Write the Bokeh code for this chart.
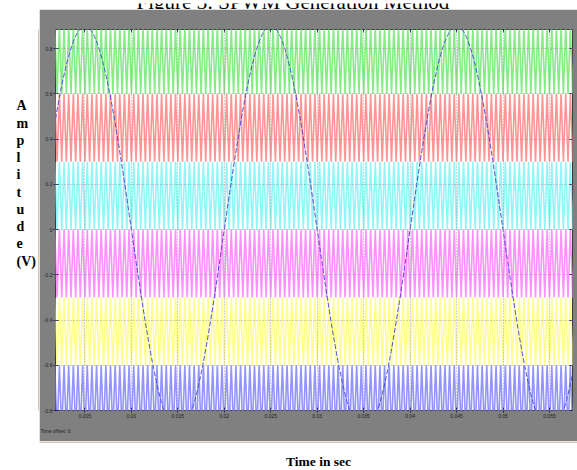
import numpy as np
from bokeh.plotting import figure
from bokeh.models import Range1d, FixedTicker, Label, LinearAxis, Title
from bokeh.layouts import column, row
from bokeh.embed import file_html
from bokeh.resources import INLINE

# ---------------- data ----------------
band_bottoms = [0.6, 0.3, 0.0, -0.3, -0.6, -0.9]      # lower level of each triangular carrier
band_height = 0.3                                      # peak-to-peak of each carrier
band_colors = ["#86ec86", "#ff9494", "#8ff7f7", "#ff90ff", "#ffff8c", "#9494ff"]
carrier_freq = 2000.0      # Hz
mod_amp = 0.9              # modulating sine amplitude
mod_freq = 50.0            # Hz
t_end = 0.06

x_ticks = [0.005, 0.01, 0.015, 0.02, 0.025, 0.03, 0.035, 0.04, 0.045, 0.05, 0.055]
x_tick_labels = ["0.005", "0.01", "0.015", "0.02", "0.025", "0.03", "0.035", "0.04", "0.045", "0.05", "0.055"]
y_ticks = [-0.8, -0.6, -0.4, -0.2, 0, 0.2, 0.4, 0.6, 0.8]
y_tick_labels = ["-0.8", "-0.6", "-0.4", "-0.2", "0", "0.2", "0.4", "0.6", "0.8"]

title_text = "Figure 3:  SPWM Generation Method"
ylabel_text = "A\nm\np\nl\ni\nt\nu\nd\ne\n(V)"
xlabel_text = "Time in sec"
offset_text = "Time offset:  0"

# ---------------- layout (page pixels) ----------------
W, H = 577, 470
BOX_L, BOX_T, BOX_B = 39, 9, 441          # gray scope window
FL, FR, FT, FB = 55, 572, 29, 410          # white plot area
X0, X1 = 0.00183, 0.05748
Y0, Y1 = -0.8, 0.885
GRAY = "#808080"


def blank(w, h, y_top, y_bot):
    f = figure(width=w, height=h, output_backend="svg", toolbar_location=None,
               x_range=Range1d(0, w), y_range=Range1d(y_bot, y_top),
               min_border=0, border_fill_color="white",
               background_fill_color="white")
    f.axis.visible = False
    f.grid.visible = False
    f.outline_line_color = None
    return f


# --- main scope window ---
p = figure(width=W - BOX_L, height=BOX_B - BOX_T, output_backend="svg",
           toolbar_location=None,
           x_range=Range1d(X0, X1), y_range=Range1d(Y0, Y1),
           min_border_left=FL - BOX_L, min_border_right=W - FR,
           min_border_top=FT - BOX_T, min_border_bottom=BOX_B - FB,
           border_fill_color=GRAY, background_fill_color="white")
p.outline_line_color = "#3c3c3c"
p.outline_line_width = 1

for ax in p.xaxis:
    ax.ticker = FixedTicker(ticks=x_ticks)
    ax.major_label_overrides = dict(zip(x_ticks, x_tick_labels))
for ax in p.yaxis:
    ax.ticker = FixedTicker(ticks=y_ticks)
    ax.major_label_overrides = dict(zip(y_ticks, y_tick_labels))
for ax in list(p.xaxis) + list(p.yaxis):
    ax.axis_line_color = None
    ax.major_tick_in = 3
    ax.major_tick_out = 2
    ax.major_tick_line_color = "#202060"
    ax.minor_tick_line_color = None
    ax.major_label_text_font_size = "5px"
    ax.major_label_text_color = "#1e1e1e"
    ax.major_label_text_font = "Liberation Sans"
    ax.major_label_standoff = 1

top_ax = LinearAxis(ticker=FixedTicker(ticks=x_ticks),
                    major_label_overrides={t: "" for t in x_ticks})
right_ax = LinearAxis(ticker=FixedTicker(ticks=y_ticks),
                      major_label_overrides={t: "" for t in y_ticks})
for ax in (top_ax, right_ax):
    ax.axis_line_color = None
    ax.major_tick_in = 3
    ax.major_tick_out = 0
    ax.major_tick_line_color = "#202060"
    ax.minor_tick_line_color = None
    ax.major_label_text_font_size = "1px"
    ax.major_label_standoff = 0
p.add_layout(top_ax, "above")
p.add_layout(right_ax, "right")

p.xgrid.ticker = FixedTicker(ticks=x_ticks)
p.ygrid.ticker = FixedTicker(ticks=y_ticks)
for g in (p.xgrid, p.ygrid):
    g.grid_line_color = "#9a9a9a"
    g.grid_line_dash = "1 2"
    g.grid_line_alpha = 0.9
    g.level = "overlay"

# carriers
half = 1.0 / (2 * carrier_freq)
n = int(round(t_end / half)) + 1
t_c = np.arange(n) * half
for b, c in zip(band_bottoms, band_colors):
    y_c = b + band_height * (np.arange(n) % 2)
    p.line(t_c, y_c, line_color=c, line_width=1.6)

# modulating sine
t_s = np.linspace(0, t_end, 2001)
p.line(t_s, mod_amp * np.sin(2 * np.pi * mod_freq * t_s),
       line_color="#4646d2", line_width=1, line_dash="5 2")

p.add_layout(Title(text=offset_text, align="left", text_font_size="5px",
                   text_font="Liberation Sans", text_font_style="normal",
                   text_color="#1e1e1e", standoff=11, offset=-15), "below")

# --- title strip (top, cut off) ---
top = blank(W, BOX_T, 0, BOX_T)
top.add_layout(Label(x=295, y=-2, text=title_text, text_align="center",
                     text_baseline="alphabetic", text_font="Liberation Serif",
                     text_font_size="21px", text_color="#000000"))

# --- left strip with y label ---
left = blank(BOX_L, BOX_B - BOX_T, BOX_T, BOX_B)
left.add_layout(Label(x=16, y=87, text=ylabel_text, text_align="left",
                      text_baseline="top", text_font="Liberation Serif",
                      text_font_style="bold", text_font_size="14px",
                      text_line_height=1.15, text_color="#000000"))
left.segment(x0=[38.5], y0=[BOX_T], x1=[38.5], y1=[BOX_B],
             line_color="#a88c6c", line_width=1)

# --- bottom strip with x label ---
bottom = blank(W, H - BOX_B, BOX_B, H)
bottom.add_layout(Label(x=318, y=461, text=xlabel_text, text_align="center",
                        text_baseline="alphabetic", text_font="Liberation Serif",
                        text_font_style="bold", text_font_size="13.5px",
                        text_color="#000000"))
bottom.segment(x0=[BOX_L], y0=[BOX_B + 0.5], x1=[W], y1=[BOX_B + 0.5],
               line_color="#a88c6c", line_width=1)

layout = column(top, row(left, p), bottom)
open("out.html", "w").write(file_html(layout, INLINE))
